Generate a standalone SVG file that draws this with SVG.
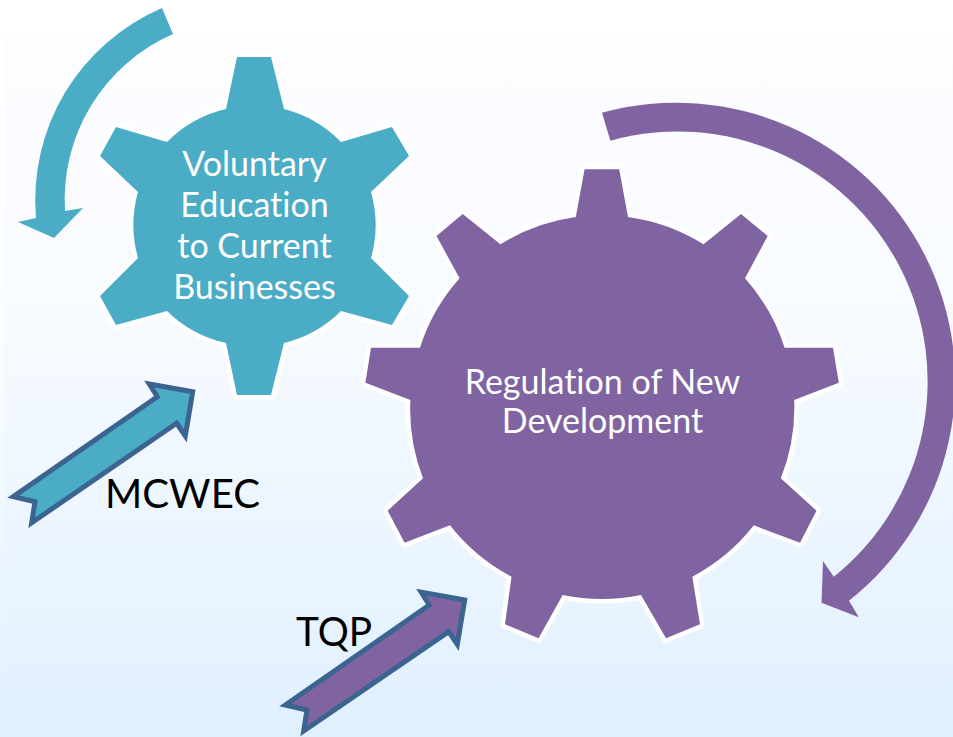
<svg xmlns="http://www.w3.org/2000/svg" width="953" height="737" viewBox="0 0 953 737">
<style>
.teal{fill:#4bacc6}
.purple{fill:#8064a2}
.gear{stroke:#fff;stroke-width:9;stroke-linejoin:round;paint-order:stroke}
.arrow{stroke:#3b6491;stroke-width:5;stroke-linejoin:miter}
text{font-family:"Lato","Open Sans","Liberation Sans",sans-serif;text-anchor:middle;font-variant-ligatures:none}
.w{fill:#fff;font-size:34px}
.b{fill:#000;font-size:41px}
</style>
<defs>
<linearGradient id="bg" gradientUnits="userSpaceOnUse" x1="0" y1="38" x2="0" y2="737">
<stop offset="0" stop-color="#fdfdff"/>
<stop offset="0.37" stop-color="#f8fbff"/>
<stop offset="0.73" stop-color="#ebf5ff"/>
<stop offset="1" stop-color="#e0f0ff"/>
</linearGradient>
<linearGradient id="edge" gradientUnits="userSpaceOnUse" x1="0" y1="38" x2="0" y2="737">
<stop offset="0" stop-color="#ffffff"/>
<stop offset="0.5" stop-color="#f9fcff"/>
<stop offset="1" stop-color="#e0f0ff"/>
</linearGradient>
<polygon id="straight" points="192.7,391.7 149.3,384 157.3,396.7 13.3,496.7 35,501.7 31.7,522.7 176.7,423.3 185.3,436"/>
</defs>
<rect width="953" height="737" fill="#fff"/>
<rect id="edge-strip" x="0" y="38" width="4" height="699" fill="url(#edge)"/>
<rect id="background" x="4" y="38" width="949" height="699" fill="url(#bg)"/>
<g id="connectors">
<path id="curve-teal" class="teal" d="M162,8 A209,209 0 0 0 36,218 L18,222 L54,238 L83,208 L65,211 A181,181 0 0 1 173,34 Z"/>
<path id="curve-purple" class="purple" d="M602,112.7 A279,279 0 0 1 849,600.7 L858.8,617.3 L821.5,602.7 L823,561 L833.8,576.7 A250,250 0 0 0 610.4,140.7 Z"/>
<use id="arrow-mcwec" href="#straight" class="teal arrow"/>
<use id="arrow-tqp" href="#straight" class="purple arrow" transform="translate(272,208.3)"/>
</g>
<g id="gear-voluntary">
<path class="teal gear" d="M237,57 L271,57 L284,109 A121,121 0 0 1 341,142 L392,127 L409,156 L371,192 A121,121 0 0 1 371,258 L409,296 L392,325 L341,311 A121,121 0 0 1 284,343 L271,395 L237,395 L226,343 A121,121 0 0 1 167,311 L116,325 L100,296 L138,258 A121,121 0 0 1 138,192 L100,156 L116,127 L167,142 A121,121 0 0 1 226,109 Z"/>
<text class="w" x="254.5" y="175.5">Voluntary</text>
<text class="w" x="254.5" y="216.5">Education</text>
<text class="w" x="254.5" y="257.5">to Current</text>
<text class="w" x="254.5" y="298.5">Businesses</text>
</g>
<g id="gear-regulation">
<path class="purple gear" d="M584.6,169.3 L619.2,169.3 L628,217 A191,191 0 0 1 703.5,244.3 L741,214 L767.7,236 L745,278.3 A191,191 0 0 1 784.6,347.7 L833,347.7 L838.8,382.7 L794.2,400 A191,191 0 0 1 780.8,478.3 L816.5,510.7 L800,542.7 L753.8,525.3 A191,191 0 0 1 692.3,576.7 L700,624.3 L666,638.3 L641,595 A191,191 0 0 1 562.7,595 L538.5,638.3 L505,624.3 L511.5,576.7 A191,191 0 0 1 450,525.3 L404.6,542.7 L387.7,510.7 L423,478.3 A191,191 0 0 1 410.4,400 L365.4,382.7 L371,347.7 L420,347.7 A191,191 0 0 1 459.6,278.3 L436.5,236 L462.7,214 L500.4,244.3 A191,191 0 0 1 575.8,217 Z"/>
<text class="w" x="602.5" y="394">Regulation of New</text>
<text class="w" x="602.5" y="433">Development</text>
</g>
<text id="label-mcwec" class="b" x="182.5" y="508" textLength="155" lengthAdjust="spacingAndGlyphs">MCWEC</text>
<text id="label-tqp" class="b" x="334" y="646" textLength="76" lengthAdjust="spacingAndGlyphs">TQP</text>
</svg>
